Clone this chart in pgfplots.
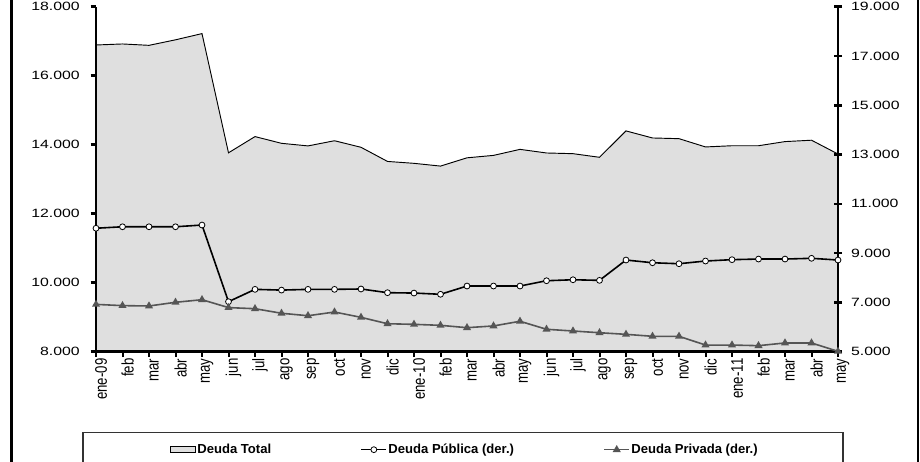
\documentclass[border=0pt]{standalone}
\usepackage{pgfplots}
\pgfplotsset{compat=1.18}
\usepackage{pgfplotstable}
\usepackage{fontspec}
\setmainfont{Liberation Sans}

\definecolor{areagrey}{RGB}{223,223,223}
\definecolor{privgrey}{RGB}{85,85,85}

% i = month index, ene-09 = 0 ... may-11 = 28
\pgfplotstableread{
i total publica privada
0 16890 10010 6920
1 16920 10070 6870
2 16880 10070 6855
3 17040 10070 7005
4 17220 10140 7110
5 13765 7030 6790
6 14235 7530 6745
7 14040 7500 6560
8 13965 7530 6460
9 14115 7530 6610
10 13925 7545 6395
11 13515 7395 6135
12 13460 7380 6110
13 13380 7330 6070
14 13620 7665 5975
15 13690 7665 6045
16 13865 7665 6235
17 13760 7880 5910
18 13740 7920 5840
19 13635 7895 5770
20 14400 8720 5705
21 14195 8610 5625
22 14175 8570 5625
23 13935 8680 5270
24 13970 8735 5270
25 13970 8760 5245
26 14090 8760 5355
27 14130 8790 5355
28 13730 8720 5015
}\datos

\pgfplotsset{
  base/.style={
    at={(0,0)}, anchor=south west,
    scale only axis, width=556.5pt, height=258.75pt,
    xmin=0, xmax=28,
    scaled y ticks=false,
    axis line style={line width=2.2pt, black},
    major tick style={line width=2pt, black},
    /pgf/number format/.cd, 1000 sep={.}, assume math mode=true,
    /pgfplots/.cd,
  },
}

\begin{document}
\begin{tikzpicture}
\useasboundingbox (-72pt,-81.975pt) rectangle (618pt,263.775pt);

% outer frame and legend box
\draw[line width=2pt] (-63.2pt,-90pt) -- (-63.2pt,270pt);
\draw[line width=2pt] (616.5pt,-90pt) -- (616.5pt,270pt);
\draw[line width=0.8pt, black!80] (-9.75pt,-90pt) -- (-9.75pt,-60.75pt) -- (560.25pt,-60.75pt) -- (560.25pt,-90pt);

\begin{axis}[base,
  axis on top,
  tick align=outside,
  ymin=8000, ymax=18000,
  ytick={8000,10000,...,18000},
  axis y line*=left, axis x line*=bottom,
  major tick length=4pt,
  xtick={0,...,28},
  xticklabels={ene-09,feb,mar,abr,may,jun,jul,ago,sep,oct,nov,dic,ene-10,feb,mar,abr,may,jun,jul,ago,sep,oct,nov,dic,ene-11,feb,mar,abr,may},
  xticklabel style={font=\fontsize{9.9}{10}\selectfont, rotate=90, anchor=east, yscale=1.27, inner sep=1pt},
  yticklabel style={font=\fontsize{9}{10}\selectfont, anchor=east, xscale=1.32, inner sep=1pt, xshift=-5pt},
  x tick style={line width=1.5pt},
  x tick label style={yshift=-3pt},
]
\addplot[fill=areagrey, draw=none] table[x=i, y=total] {\datos} \closedcycle;
\addplot[black, line width=0.7pt] table[x=i, y=total] {\datos};
\end{axis}

\begin{axis}[base,
  clip=false,
  tick align=center,
  ymin=5000, ymax=19000,
  ytick={5000,7000,...,19000},
  axis y line*=right, axis x line=none,
  xtick=\empty,
  major tick length=6pt,
  yticklabel style={font=\fontsize{9}{10}\selectfont, anchor=west, xscale=1.32, inner sep=1pt, xshift=4pt},
  legend columns=3,
  legend cell align=left,
  legend image code/.code={
    \draw[mark repeat=2, mark phase=2, #1] plot coordinates {(0pt,0pt) (9.4pt,0pt) (18.75pt,0pt)};
  },
  legend style={at={(0.0997,-0.284)}, anchor=west, draw=none, fill=none,
    inner sep=0pt, font=\fontsize{9.8}{11}\selectfont\bfseries,
    nodes={inner sep=1pt},
    /tikz/every even column/.append style={column sep=66pt}},
]
\addlegendimage{legend image code/.code={\draw[fill=areagrey, draw=black, line width=0.6pt] (0pt,-2.1pt) rectangle (18.75pt,2.1pt);}}
\addplot[black, line width=1.2pt, mark=*, mark size=2.2pt,
  mark options={fill=white, draw=black, line width=0.6pt}]
  table[x=i, y=publica] {\datos};
\addplot[privgrey, line width=1.2pt, mark=triangle*, mark size=2.3pt,
  mark options={fill=privgrey, draw=privgrey}]
  table[x=i, y=privada] {\datos};
\legend{Deuda Total, Deuda Pública (der.), Deuda Privada (der.)}
\end{axis}
\end{tikzpicture}
\end{document}
